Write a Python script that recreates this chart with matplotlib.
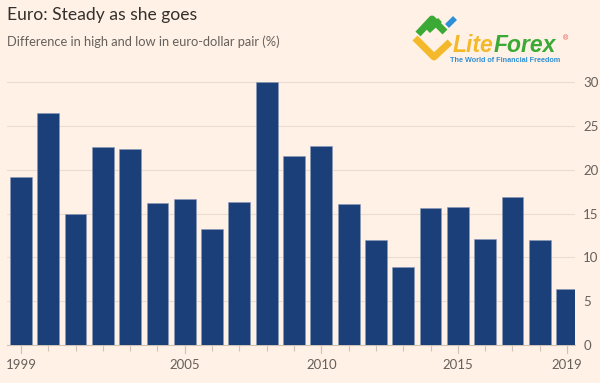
import matplotlib.pyplot as plt
from matplotlib.lines import Line2D

years = list(range(1999, 2020))
values = [19.15, 26.5, 14.95, 22.65, 22.35, 16.2, 16.7, 13.3, 16.3, 30.0, 21.55,
          22.7, 16.15, 11.95, 8.95, 15.7, 15.75, 12.15, 16.95, 11.95, 6.35]
label_years = [1999, 2005, 2010, 2015, 2019]
y_ticks = [0, 5, 10, 15, 20, 25, 30]

bg = '#fff1e5'
bar_color = '#1b3f79'
grey = '#66605c'

plt.rcParams['font.family'] = ['Lato', 'DejaVu Sans']

fig = plt.figure(figsize=(6, 3.83), dpi=100, facecolor=bg)
ax = fig.add_axes([7 / 600, 38 / 383, 568 / 600, 271.4 / 383], facecolor=bg)

ax.bar(years, values, width=0.8, color=bar_color, edgecolor='#8a9ab8', linewidth=0.4, zorder=3)

ax.set_xlim(1998.49, 2019.29)
ax.set_ylim(0, 31)
ax.yaxis.tick_right()
ax.set_yticks(y_ticks)
ax.set_yticklabels([str(t) for t in y_ticks], fontsize=9.5, color=grey)
ax.tick_params(axis='y', length=0, pad=6)
ax.grid(axis='y', color='#eadcd0', linewidth=0.8, zorder=0)

ax.set_xticks(years)
ax.set_xticklabels([str(y) if y in label_years else '' for y in years], fontsize=9.5, color=grey)
ax.tick_params(axis='x', length=4, color='#cfc3b8', pad=6)
for y in label_years:
    ax.plot([y, y], [0, -0.9], color='#cfc3b8', lw=0.8, clip_on=False)

for s in ['top', 'right', 'left']:
    ax.spines[s].set_visible(False)
ax.spines['bottom'].set_color('#cfc3b8')

fig.text(7 / 600, 1 - 15 / 383, 'Euro: Steady as she goes', fontsize=12.6, color='#33302e', va='center')
fig.text(7 / 600, 1 - 42 / 383, 'Difference in high and low in euro-dollar pair (%)', fontsize=9.3,
         color=grey, va='center')

# logo
def px(x, y):
    return x / 600, 1 - y / 383

def seg(pts, color, lw):
    xs = [px(*p)[0] for p in pts]
    ys = [px(*p)[1] for p in pts]
    fig.add_artist(Line2D(xs, ys, color=color, lw=lw, solid_capstyle='butt', transform=fig.transFigure))

seg([(415, 38), (434, 57), (450, 42)], '#f4b92b', 5)
seg([(418, 34), (432, 19), (445, 32)], '#3aa935', 5)
seg([(428, 31), (440, 20)], '#3aa935', 4)
seg([(447, 26), (455, 18)], '#2f8fd6', 4)
logo_font = ['Liberation Sans', 'DejaVu Sans']
t1 = fig.text(*px(453, 46), 'Lite', fontsize=16.5, fontweight='bold', style='italic', color='#f4b92b',
              va='center', family=logo_font)
fig.canvas.draw()
bb = t1.get_window_extent()
fig.text(bb.x1 / fig.bbox.width, 1 - 46 / 383, 'Forex', fontsize=16.5, fontweight='bold', style='italic',
         color='#3aa935', va='center', family=logo_font)
fig.text(*px(563, 39), '®', fontsize=5, color='#e04040', va='center', family=logo_font)
fig.text(*px(450, 61), 'The World of Financial Freedom', fontsize=5.2, fontweight='bold', color='#2f8fd6',
         va='center', family=logo_font)

plt.savefig('out.png', dpi=100, facecolor=bg)
